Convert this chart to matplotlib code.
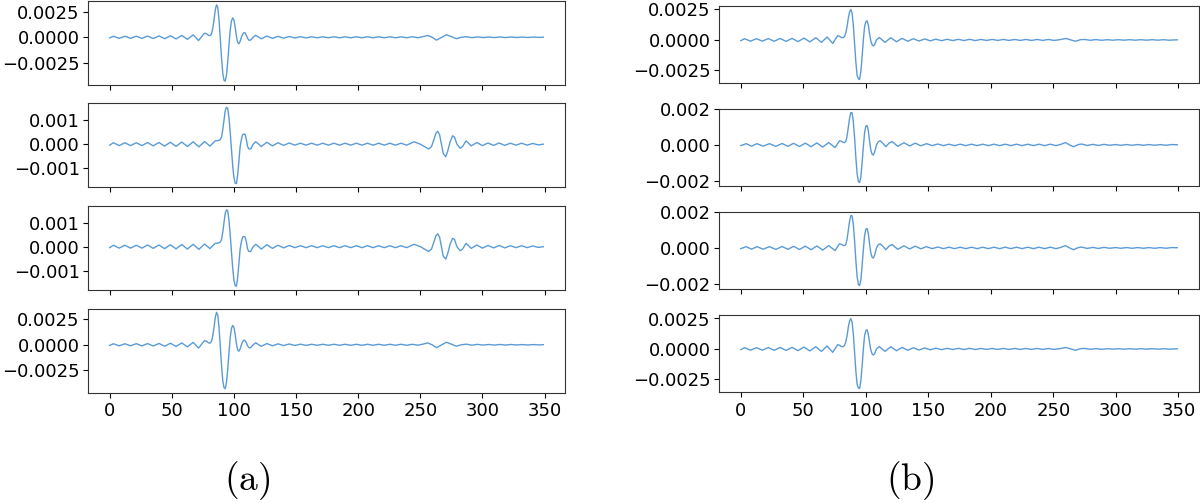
import matplotlib
matplotlib.use("Agg")
import matplotlib.pyplot as plt
import numpy as np

sig_a = np.array([
    [0, -0.00006], [3, 0.0001], [7.6, -0.0001], [12.2, 0.0001], [16.8, -0.0001], [21.4, 0.00011],
    [25.9, -0.00011], [30.5, 0.00012], [35.1, -0.00012], [39.7, 0.00013], [44.3, -0.00014],
    [48.9, 0.00015], [53.4, -0.00016], [58, 0.00018], [62.6, -0.0002], [67.2, 0.00024],
    [71.5, -0.00032], [76.3, 0.0004], [78, 0.00035], [79, 0.00024], [80, 0.00017], [81, 0.00018],
    [82, 0.00035], [83, 0.0009], [84, 0.0017], [85, 0.0027], [86, 0.00318], [87, 0.0029],
    [88, 0.0017], [89, -0.0001], [90, -0.002], [91, -0.0035], [92, -0.0042], [93, -0.0043],
    [94, -0.0037], [95, -0.0024], [96, -0.0008], [97, 0.0007], [98, 0.0016], [99, 0.0019],
    [100, 0.0017], [101, 0.001], [102, 0.0001], [103, -0.0005], [104, -0.00063], [105, -0.0004],
    [106, 0.0], [107, 0.0003], [108, 0.00045], [109, 0.00042], [110, 0.0002], [111, -0.0001],
    [112, -0.00028], [113, -0.0003], [114, -0.0002], [115.5, 0.0], [117.5, 0.0002], [120, 0.0],
    [122, -0.00015], [126.5, 0.00012], [131, -0.0001], [135.5, 0.00009], [140, -0.00008],
    [144.5, 0.00008], [149, -0.00007], [153.5, 0.00006], [158, -0.00006], [162.5, 0.00005],
    [167, -0.00005], [171.5, 0.00005], [176, -0.00005], [180.5, 0.00005], [185, -0.00005],
    [189.5, 0.00005], [194, -0.00005], [198.5, 0.00005], [203, -0.00005], [207.5, 0.00005],
    [212, -0.00005], [216.5, 0.00005], [221, -0.00005], [225.5, 0.00005], [230, -0.00005],
    [234.5, 0.00005], [239, -0.00005], [243.5, 0.00005], [248, -0.00004], [252, 0.00006],
    [256, 0.00018], [259.5, 0.0], [263, -0.00028], [267, -0.00002], [271, 0.00025],
    [275, 0.00006], [279, -0.00014], [283, 0.0], [287, 0.00006], [291.5, -0.00004],
    [296, 0.00004], [300.5, -0.00003], [305, 0.00003], [309.5, -0.00003], [314, 0.00003],
    [318.5, -0.00003], [323, 0.00003], [327.5, -0.00002], [332, 0.00002], [336.5, -0.00002],
    [341, 0.00002], [345.5, -0.00001], [349, 0.00001],
])

sig_b = np.array([
    [0, -0.00004], [3, 0.00006], [7.6, -0.00006], [12.2, 0.00006], [16.8, -0.00006], [21.4, 0.00006],
    [26, -0.00006], [30.5, 0.00007], [35, -0.00007], [39.6, 0.00007], [44.2, -0.00008],
    [48.8, 0.00008], [53.4, -0.00009], [58, 0.00009], [62.6, -0.0001], [67.2, 0.0001],
    [71.8, -0.00011], [76.4, 0.00011], [80.7, -0.00008], [83, 0.00004], [85, 0.00014],
    [87, 0.00015], [88, 0.00016], [89, 0.00019], [90, 0.0003], [91, 0.0006], [92, 0.001],
    [93, 0.0014], [94, 0.00154], [95, 0.0015], [96, 0.0011], [97, 0.0005], [98, -0.0002],
    [99, -0.0009], [100, -0.0014], [101, -0.00163], [102, -0.00165], [103, -0.0013],
    [104, -0.0007], [105, -0.0001], [106, 0.0002], [107, 0.0004], [108, 0.00043], [109, 0.0004],
    [110, 0.0002], [111, -0.0001], [112, -0.0002], [113.5, -0.0002], [115.5, 0.0],
    [117.5, 0.0001], [120, 0.0], [122, -0.0001], [126.5, 0.00008], [131, -0.00007],
    [135.5, 0.00006], [140, -0.00005], [144.5, 0.00005], [149, -0.00004], [153.5, 0.00004],
    [158, -0.00004], [162.5, 0.00004], [167, -0.00004], [171.5, 0.00004], [176, -0.00004],
    [180.5, 0.00004], [185, -0.00004], [189.5, 0.00004], [194, -0.00004], [198.5, 0.00004],
    [203, -0.00004], [207.5, 0.00004], [212, -0.00004], [216.5, 0.00004], [221, -0.00004],
    [225.5, 0.00004], [230, -0.00004], [234.5, 0.00004], [239, -0.00004], [245, 0.0001],
    [250, 0.0], [256.7, -0.0002], [259, -0.0001], [261, 0.0002], [262.5, 0.00045],
    [264, 0.00054], [265.5, 0.0004], [267, 0.0], [268.5, -0.0004], [270.5, -0.00052],
    [272, -0.0003], [274, 0.0001], [276, 0.00035], [277.5, 0.0003], [279.5, 0.0],
    [282, -0.00017], [284, -0.0001], [286.8, 0.00014], [291, -0.00007], [295.5, 0.00007],
    [300, -0.00006], [304.5, 0.00005], [309, -0.00005], [313.5, 0.00005], [318, -0.00005],
    [322.5, 0.00004], [327, -0.00004], [331.5, 0.00004], [336, -0.00004], [340.5, 0.00003],
    [345, -0.00003], [349, 0.0],
])

sig_c = np.array([
    [0, -0.00006], [3, 0.0001], [7.7, -0.0001], [12.5, 0.0001], [17.2, -0.0001], [22, 0.00011],
    [26.7, -0.00011], [31.5, 0.00012], [36.2, -0.00012], [41, 0.00013], [45.7, -0.00014],
    [50.5, 0.00015], [55.2, -0.00016], [60, 0.00018], [64.5, -0.0002], [69, 0.00024],
    [73.5, -0.00028], [77.5, 0.00035], [79, 0.0003], [80, 0.00022], [81, 0.00018], [82, 0.0002],
    [83, 0.0003], [84, 0.0006], [85, 0.0011], [86, 0.0018], [87, 0.0023], [88, 0.0025],
    [89, 0.0022], [90, 0.0012], [91, -0.0003], [92, -0.0018], [93, -0.0029], [94, -0.0032],
    [95, -0.00325], [96, -0.0026], [97, -0.0014], [98, 0.0], [99, 0.0011], [100, 0.0015],
    [101, 0.00158], [102, 0.0012], [103, 0.0005], [104, -0.0001], [105, -0.0004], [106, -0.0005],
    [107, -0.0004], [108.5, 0.0], [110.8, 0.0002], [113, 0.0], [115.4, -0.0002], [117.7, 0.0],
    [120, 0.00018], [124.5, -0.00015], [129, 0.00013], [133.5, -0.00011], [138, 0.0001],
    [142.5, -0.00009], [147, 0.00008], [151.5, -0.00007], [156, 0.00006], [160.5, -0.00006],
    [165, 0.00005], [169.5, -0.00005], [174, 0.00005], [178.5, -0.00005], [183, 0.00005],
    [187.5, -0.00005], [192, 0.00004], [196.5, -0.00004], [201, 0.00004], [205.5, -0.00004],
    [210, 0.00004], [214.5, -0.00004], [219, 0.00004], [223.5, -0.00004], [228, 0.00004],
    [232.5, -0.00004], [237, 0.00004], [241.5, -0.00004], [246, 0.00004], [250.5, -0.00004],
    [255, 0.00002], [260, 0.00012], [264, 0.0], [267.7, -0.00011], [271.5, 0.00002],
    [275, 0.00004], [279.5, -0.00003], [284, 0.00003], [288.5, -0.00003], [293, 0.00002],
    [297.5, -0.00002], [302, 0.00002], [306.5, -0.00002], [311, 0.00002], [315.5, -0.00002],
    [320, 0.00002], [324.5, -0.00002], [329, 0.00002], [333.5, -0.00002], [338, 0.00002],
    [342.5, -0.00002], [349, 0.00001],
])

sig_d = np.array([
    [0, -0.00004], [4.3, 0.00007], [8.6, -0.00007], [12.9, 0.00007], [17.9, -0.00007],
    [22.9, 0.00007], [28, -0.00008], [33, 0.00008], [37.6, -0.00008], [42.2, 0.00009],
    [46.9, -0.00009], [51.6, 0.0001], [56.2, -0.0001], [60.8, 0.00011], [65.5, -0.00012],
    [70.3, 0.00013], [75.4, -0.00015], [78.9, 0.00023], [80.5, 0.0002], [82, 0.00014],
    [83, 0.00013], [84, 0.0002], [85, 0.0005], [86, 0.001], [87, 0.0015], [88, 0.00182],
    [89, 0.0018], [90, 0.0013], [91, 0.0004], [92, -0.0007], [93, -0.0016], [94, -0.00205],
    [95, -0.00211], [96, -0.0018], [97, -0.001], [98, -0.0001], [99, 0.0007], [100, 0.00105],
    [101, 0.00109], [102, 0.0008], [103, 0.0002], [104, -0.0003], [105, -0.00052],
    [106, -0.00057], [107, -0.0004], [108.5, 0.0], [110, 0.00018], [111.5, 0.00023],
    [113.5, 0.0001], [116, -0.0001], [118.5, 0.0001], [121, 0.00019], [125.5, -0.00008],
    [130.5, 0.00012], [135, -0.00006], [139.5, 0.0001], [144, -0.00005], [148.5, 0.00007],
    [153, -0.00004], [157.5, 0.00005], [162, -0.00004], [166.5, 0.00004], [171, -0.00004],
    [175.5, 0.00004], [180, -0.00004], [184.5, 0.00004], [189, -0.00004], [193.5, 0.00004],
    [198, -0.00004], [202.5, 0.00004], [207, -0.00004], [211.5, 0.00004], [216, -0.00004],
    [220.5, 0.00004], [225, -0.00004], [229.5, 0.00004], [234, -0.00004], [238.5, 0.00004],
    [243, -0.00004], [247.5, 0.00004], [252, -0.00004], [255.5, 0.00002], [259.6, 0.00013],
    [263, 0.0], [266, -0.0001], [270, 0.00002], [272.5, 0.00005], [277, -0.00003],
    [281.5, 0.00003], [286, -0.00003], [290.5, 0.00003], [295, -0.00002], [299.5, 0.00002],
    [304, -0.00002], [308.5, 0.00002], [313, -0.00002], [317.5, 0.00002], [322, -0.00002],
    [326.5, 0.00002], [331, -0.00002], [335.5, 0.00002], [340, -0.00002], [344.5, 0.00002],
    [349, 0.00001],
])

left_rows = [sig_a, sig_b, sig_b, sig_a]
right_rows = [sig_c, sig_d, sig_d, sig_c]
left_yticks = [[-0.0025, 0, 0.0025], [-0.001, 0, 0.001], [-0.001, 0, 0.001], [-0.0025, 0, 0.0025]]
right_yticks = [[-0.0025, 0, 0.0025], [-0.002, 0, 0.002], [-0.002, 0, 0.002], [-0.0025, 0, 0.0025]]
xticks = [0, 50, 100, 150, 200, 250, 300, 350]
captions = ["a", "b"]

plt.rcParams['font.size'] = 13
plt.rcParams['mathtext.fontset'] = 'cm'

W, H = 1200, 503
fig = plt.figure(figsize=(W / 100, H / 100), dpi=100)


def add_column(rows, yticks, left_px, width_px, tops_px, height_px):
    for i, (sig, yt) in enumerate(zip(rows, yticks)):
        ax = fig.add_axes([left_px / W, 1 - (tops_px[i] + height_px) / H,
                           width_px / W, height_px / H])
        ax.plot(sig[:, 0], sig[:, 1], color='#5b9bd5', lw=1.0)
        ax.set_xticks(xticks)
        ax.set_yticks(yt)
        ax.tick_params(axis='y', pad=2.5)
        for s in ax.spines.values():
            s.set_color('#333333')
        if i < len(rows) - 1:
            ax.tick_params(labelbottom=False)


add_column(left_rows, left_yticks, 88, 477, [1, 103.5, 206, 308.5], 84)
add_column(right_rows, right_yticks, 719, 480, [6, 109, 212, 315], 77)

fig.text(247 / W, 1 - 481 / H, r'$(\mathrm{%s})$' % captions[0], fontsize=27, ha='center', va='center')
fig.text(910 / W, 1 - 481 / H, r'$(\mathrm{%s})$' % captions[1], fontsize=27, ha='center', va='center')

fig.savefig('out.png', dpi=100)
